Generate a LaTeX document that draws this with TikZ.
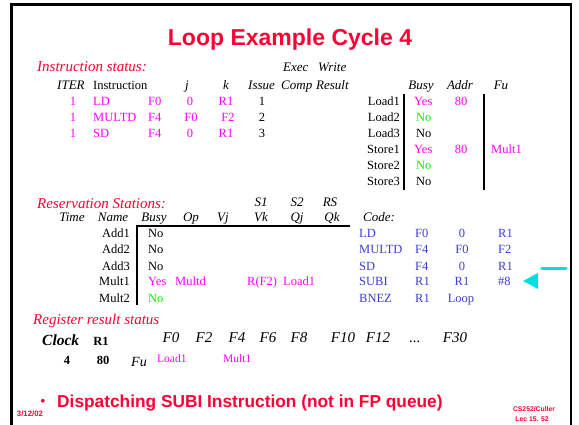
\documentclass[tikz,border=0pt]{standalone}
\usepackage{fontspec}
\setmainfont{Liberation Serif}
\setsansfont{Liberation Sans}
\definecolor{slred}{RGB}{255,0,51}
\definecolor{slmag}{RGB}{255,0,255}
\definecolor{slgreen}{RGB}{0,245,0}
\definecolor{slblue}{RGB}{60,60,210}
\definecolor{slcyan}{RGB}{0,224,224}
\tikzset{
  body/.style={inner sep=0pt, font=\fontsize{12.5}{14}\selectfont},
  hd/.style={inner sep=0pt, font=\itshape\fontsize{13}{15}\selectfont},
  sect/.style={inner sep=0pt, anchor=base west, text=slred, font=\itshape\fontsize{15}{17}\selectfont},
  mg/.style={body, text=slmag},
  gr/.style={body, text=slgreen},
  cd/.style={body, text=slblue},
  C/.style={anchor=base},
  W/.style={anchor=base west},
  E/.style={anchor=base east},
  rule/.style={line width=2pt, black},
  regF/.style={inner sep=0pt, anchor=base, font=\itshape\fontsize{15}{17}\selectfont},
}
\begin{document}
\begin{tikzpicture}[x=1pt, y=-1pt]
\useasboundingbox (0,0) rectangle (579,425);
% slide frame (open at the bottom)
\draw[line width=2.6pt] (11.3,425) -- (11.3,4.7) -- (571,4.7) -- (571,425);

% title
\node[inner sep=0pt, anchor=base, text=slred, font=\sffamily\bfseries\fontsize{23}{26}\selectfont] (title) at (290,46) {Loop Example Cycle 4};

% ---------- instruction status ----------
\node[sect] (hIS) at (37,72) {Instruction status:};
\node[hd, W] (hExec) at (283,72) {Exec};
\node[hd, W] (hWrite) at (318,72) {Write};
\node[hd, W] (hIter) at (57,90) {ITER};
\node[body, W] (hInstr) at (93,90) {Instruction};
\node[hd, C] (hj) at (187,90) {j};
\node[hd, C] (hk) at (226,90) {k};
\node[hd, W] (hIssue) at (248,90) {Issue};
\node[hd, W] (hComp) at (281,90) {Comp};
\node[hd, W] (hResult) at (316,90) {Result};

\node[mg, C] (i1it) at (73,106) {1};
\node[mg, W] (i1op) at (93,106) {LD};
\node[mg, W] (i1d) at (148,106) {F0};
\node[mg, C] (i1j) at (190,106) {0};
\node[mg, C] (i1k) at (226,106) {R1};
\node[body, C] (i1is) at (262,106) {1};

\node[mg, C] (i2it) at (73,122) {1};
\node[mg, W] (i2op) at (93,122) {MULTD};
\node[mg, W] (i2d) at (148,122) {F4};
\node[mg, C] (i2j) at (191,122) {F0};
\node[mg, C] (i2k) at (228,122) {F2};
\node[body, C] (i2is) at (262,122) {2};

\node[mg, C] (i3it) at (73,138) {1};
\node[mg, W] (i3op) at (93,138) {SD};
\node[mg, W] (i3d) at (148,138) {F4};
\node[mg, C] (i3j) at (190,138) {0};
\node[mg, C] (i3k) at (226,138) {R1};
\node[body, C] (i3is) at (262,138) {3};

% ---------- load / store buffers ----------
\node[hd, C] (hBusy) at (421,90) {Busy};
\node[hd, C] (hAddr) at (460,90) {Addr};
\node[hd, C] (hFu) at (501,90) {Fu};

\node[body, E] (ld1) at (400,106) {Load1};
\node[body, E] (ld2) at (400,122) {Load2};
\node[body, E] (ld3) at (400,138) {Load3};
\node[body, E] (st1) at (400,154) {Store1};
\node[body, E] (st2) at (400,170) {Store2};
\node[body, E] (st3) at (400,186) {Store3};

\node[mg, W] (ld1b) at (414,106) {Yes};
\node[mg, C] (ld1a) at (461,106) {80};
\node[gr, W] (ld2b) at (416,122) {No};
\node[body, W] (ld3b) at (416,138) {No};
\node[mg, W] (st1b) at (414,154) {Yes};
\node[mg, C] (st1a) at (461,154) {80};
\node[mg, W] (st1f) at (491,154) {Mult1};
\node[gr, W] (st2b) at (416,170) {No};
\node[body, W] (st3b) at (416,186) {No};

\coordinate (lsA1) at (404,94);
\coordinate (lsA2) at (404,190);
\coordinate (lsB1) at (484,94);
\coordinate (lsB2) at (484,190);
\draw[rule] (lsA1) -- (lsA2);
\draw[rule] (lsB1) -- (lsB2);

% ---------- reservation stations ----------
\node[sect] (hRS) at (37,209) {Reservation Stations:};
\node[hd, C] (hS1) at (261,207) {S1};
\node[hd, C] (hS2) at (297,207) {S2};
\node[hd, C] (hRSq) at (330,207) {RS};

\node[hd, C] (hTime) at (72,222) {Time};
\node[hd, C] (hName) at (113,222) {Name};
\node[hd, C] (hRBusy) at (154,222) {Busy};
\node[hd, C] (hOp) at (191,222) {Op};
\node[hd, C] (hVj) at (223,222) {Vj};
\node[hd, C] (hVk) at (261,222) {Vk};
\node[hd, C] (hQj) at (297,222) {Qj};
\node[hd, C] (hQk) at (332,222) {Qk};
\node[hd, W] (hCode) at (363,222) {Code:};

\node[body, E] (rsA1) at (130,238) {Add1};
\node[body, E] (rsA2) at (130,254) {Add2};
\node[body, E] (rsA3) at (130,270) {Add3};
\node[body, E] (rsM1) at (130,286) {Mult1};
\node[body, E] (rsM2) at (130,302) {Mult2};

\node[body, W] (rsA1b) at (148,238) {No};
\node[body, W] (rsA2b) at (148,254) {No};
\node[body, W] (rsA3b) at (148,270) {No};
\node[mg, W] (rsM1b) at (148,286) {Yes};
\node[mg, W] (rsM1op) at (175,286) {Multd};
\node[mg, W] (rsM1vk) at (247,286) {R(F2)};
\node[mg, W] (rsM1qj) at (283,286) {Load1};
\node[gr, W] (rsM2b) at (148,302) {No};

\coordinate (rsCorner) at (137,226.5);
\coordinate (rsRight) at (350,226.5);
\coordinate (rsBottom) at (137,305);
\draw[rule] (rsRight) -- (rsCorner) -- (rsBottom);

% code listing
\node[cd, W] (c1a) at (359,238) {LD};
\node[cd, W] (c1b) at (415,238) {F0};
\node[cd, C] (c1c) at (462,238) {0};
\node[cd, W] (c1d) at (498,238) {R1};
\node[cd, W] (c2a) at (359,254) {MULTD};
\node[cd, W] (c2b) at (415,254) {F4};
\node[cd, C] (c2c) at (462,254) {F0};
\node[cd, W] (c2d) at (498,254) {F2};
\node[cd, W] (c3a) at (359,270) {SD};
\node[cd, W] (c3b) at (415,270) {F4};
\node[cd, C] (c3c) at (462,270) {0};
\node[cd, W] (c3d) at (498,270) {R1};
\node[cd, W] (c4a) at (359,286) {SUBI};
\node[cd, W] (c4b) at (415,286) {R1};
\node[cd, C] (c4c) at (462,286) {R1};
\node[cd, W] (c4d) at (498,286) {\#8};
\node[cd, W] (c5a) at (359,302) {BNEZ};
\node[cd, W] (c5b) at (415,302) {R1};
\node[cd, C] (c5c) at (461,302) {Loop};

% current-instruction pointer
\coordinate (ptrL) at (542,268.8);
\coordinate (ptrR) at (566,268.8);
\draw[slcyan, line width=3.4pt, line cap=round] (ptrL) -- (ptrR);
\coordinate (tipP) at (523,281);
\coordinate (tipA) at (538,273);
\coordinate (tipB) at (538,289);
\fill[slcyan] (tipP) -- (tipA) -- (tipB) -- cycle;

% ---------- register result status ----------
\node[sect] (hReg) at (33,324) {Register result status};
\node[inner sep=0pt, W, font=\bfseries\itshape\fontsize{15.5}{17}\selectfont] (clk) at (42,345) {Clock};
\node[inner sep=0pt, C, font=\bfseries\fontsize{12.5}{14}\selectfont] (hR1) at (101,345) {R1};
\node[inner sep=0pt, C, font=\bfseries\fontsize{12.5}{14}\selectfont] (clkv) at (67,364) {4};
\node[inner sep=0pt, C, font=\bfseries\fontsize{12.5}{14}\selectfont] (r1v) at (103,364) {80};

\node[regF] (rF0) at (171,342) {F0};
\node[regF] (rF2) at (204,342) {F2};
\node[regF] (rF4) at (237,342) {F4};
\node[regF] (rF6) at (268,342) {F6};
\node[regF] (rF8) at (299,342) {F8};
\node[regF] (rF10) at (343,342) {F10};
\node[regF] (rF12) at (378,342) {F12};
\node[regF] (rDots) at (415,342) {...};
\node[regF] (rF30) at (455,342) {F30};

\node[inner sep=0pt, C, font=\itshape\fontsize{14}{16}\selectfont] (hRegFu) at (139,366) {Fu};
\node[inner sep=0pt, W, text=slmag, font=\fontsize{11.5}{13}\selectfont] (fuF0) at (157,362) {Load1};
\node[inner sep=0pt, W, text=slmag, font=\fontsize{11.5}{13}\selectfont] (fuF4) at (223,362) {Mult1};

% ---------- footer ----------
\node[inner sep=0pt, C, text=slred, font=\sffamily\bfseries\fontsize{13}{15}\selectfont] (bul) at (43,405) {•};
\node[inner sep=0pt, W, text=slred, font=\sffamily\bfseries\fontsize{17.3}{20}\selectfont] (foot) at (57,407) {Dispatching SUBI Instruction (not in FP queue)};
\node[inner sep=0pt, C, text=slred, font=\sffamily\bfseries\fontsize{7.8}{9}\selectfont] (date) at (30,416) {3/12/02};
\node[inner sep=0pt, C, text=slred, font=\sffamily\bfseries\fontsize{6.8}{8}\selectfont] (course) at (534,411.5) {CS252/Culler};
\node[inner sep=0pt, C, text=slred, font=\sffamily\bfseries\fontsize{6.8}{8}\selectfont] (lec) at (532,421.5) {Lec 15. 52};
\end{tikzpicture}
\end{document}
